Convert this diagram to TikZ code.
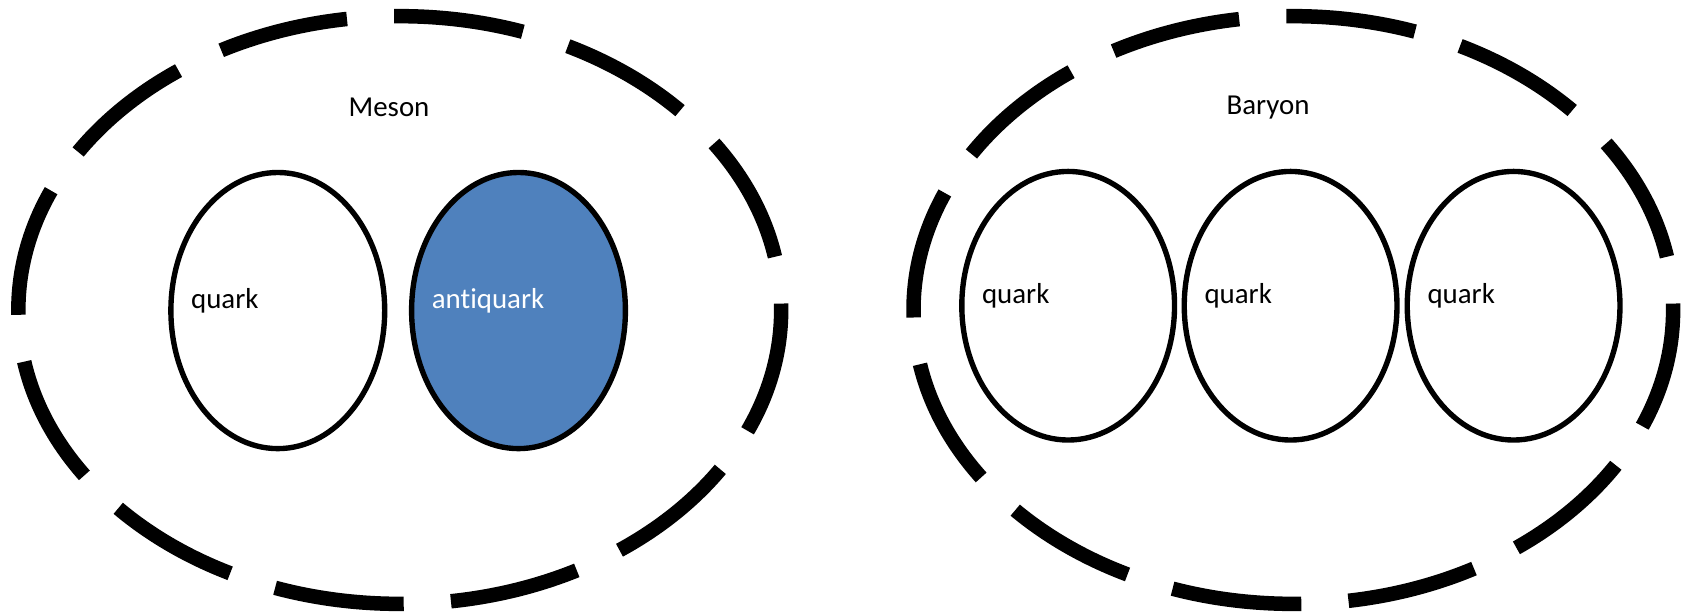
\documentclass[tikz,border=0pt]{standalone}
\usepackage{fontspec}
\setmainfont{Carlito}[Ligatures=NoCommon]
\usetikzlibrary{positioning,shapes.geometric}
\definecolor{quarkblue}{HTML}{4F81BD}

\begin{document}
\begin{tikzpicture}[x=0.02cm,y=0.02cm]
\tikzset{shell/.style={ellipse,draw,line width=0.27cm,inner sep=0pt,
  minimum width=14.2cm,minimum height=10.94cm,
  dash pattern=on 2.42cm off 0.88cm,dash phase=2.3cm}}
\tikzset{quarkbox/.style={ellipse,draw,line width=0.1cm,inner sep=0pt}}
\tikzset{mesonquark/.style={quarkbox,minimum width=3.98cm,minimum height=5.14cm}}
\tikzset{baryonquark/.style={quarkbox,minimum width=3.96cm,minimum height=5cm}}
\tikzset{lbl/.style={inner sep=0pt,font=\fontsize{15.3}{18}\selectfont}}
\useasboundingbox (0,0) rectangle (1568,571);
% meson: quark + antiquark
\node[shell] (meson) at (372,282.5) {};
\node[lbl] (mesontitle) at (362,471) {Meson};
\node[mesonquark] (mq) at (258.5,282) {};
\node[mesonquark,fill=quarkblue] (maq) at (482.5,282) {};
\node[lbl,right=0.42cm of mq.west,yshift=0.18cm] (mqtext) {quark};
\node[lbl,text=white,right=0.42cm of maq.west,yshift=0.18cm] (maqtext) {antiquark};
% baryon: three quarks
\node[shell,minimum width=14.14cm] (baryon) at (1203.5,282.5) {};
\node[lbl] (baryontitle) at (1180,471) {Baryon};
\node[baryonquark] (bq1) at (994,286.5) {};
\node[baryonquark] (bq2) at (1201,286.5) {};
\node[baryonquark] (bq3) at (1408.5,286.5) {};
\node[lbl,right=0.42cm of bq1.west,yshift=0.19cm] (bq1text) {quark};
\node[lbl,right=0.42cm of bq2.west,yshift=0.19cm] (bq2text) {quark};
\node[lbl,right=0.42cm of bq3.west,yshift=0.19cm] (bq3text) {quark};
\end{tikzpicture}
\end{document}
